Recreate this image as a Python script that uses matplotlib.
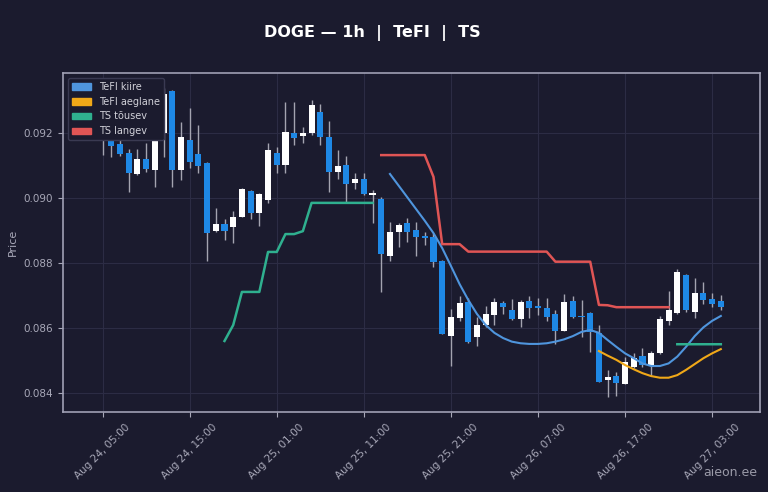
import numpy as np
import pandas as pd
import matplotlib
matplotlib.use("Agg")
import matplotlib.pyplot as plt
import matplotlib.dates as mdates
from matplotlib.patches import Patch

nan = np.nan

# hourly candles, Aug 24 05:00 -> Aug 27 04:00
times = pd.date_range("2024-08-24 05:00", periods=72, freq="h")

opens = [0.0920, 0.09188, 0.09166, 0.09139, 0.09073, 0.09119, 0.09086, 0.09201, 0.09329, 0.09086,
         0.09179, 0.09135, 0.09107, 0.08898, 0.08919, 0.0891, 0.08941, 0.09022, 0.08955, 0.08994,
         0.0914, 0.09102, 0.09201, 0.09191, 0.09201, 0.09266, 0.09189, 0.09081, 0.09101, 0.09045,
         0.0906, 0.09009, 0.08998, 0.08822, 0.08896, 0.08922, 0.08902, 0.08882, 0.08879, 0.08807,
         0.08575, 0.0863, 0.08681, 0.08571, 0.08609, 0.0864, 0.08678, 0.08655, 0.08627, 0.08684,
         0.08667, 0.0866, 0.08643, 0.08592, 0.08684, 0.08638, 0.08645, 0.08586, 0.0844, 0.08452,
         0.08428, 0.08479, 0.08514, 0.08483, 0.08524, 0.08623, 0.08645, 0.08763, 0.0865, 0.08707,
         0.08688, 0.08684]
highs = [0.0926, 0.0920, 0.0921, 0.09151, 0.09151, 0.0917, 0.0923, 0.09338, 0.09332, 0.09235,
         0.09276, 0.09225, 0.0911, 0.08969, 0.08934, 0.08961, 0.0903, 0.09025, 0.09016, 0.0917,
         0.09158, 0.09296, 0.09296, 0.09218, 0.09302, 0.09289, 0.09238, 0.09148, 0.09129, 0.09076,
         0.09078, 0.09025, 0.09003, 0.08927, 0.08924, 0.08937, 0.08927, 0.08896, 0.08893, 0.0881,
         0.08658, 0.08698, 0.08691, 0.08633, 0.08668, 0.08691, 0.08684, 0.08688, 0.08686, 0.08698,
         0.08691, 0.08691, 0.08655, 0.08704, 0.08698, 0.08686, 0.0865, 0.08609, 0.08471, 0.08466,
         0.0851, 0.08522, 0.08537, 0.0853, 0.08637, 0.08715, 0.08781, 0.08766, 0.08753, 0.08742,
         0.08707, 0.08702]
lows = [0.09133, 0.09127, 0.0913, 0.09019, 0.09071, 0.09081, 0.09035, 0.09127, 0.09035, 0.09055,
        0.09091, 0.09078, 0.08807, 0.08896, 0.08871, 0.08862, 0.0894, 0.08934, 0.08914, 0.08984,
        0.09078, 0.09078, 0.09163, 0.0917, 0.09194, 0.09163, 0.09019, 0.09058, 0.08989, 0.09027,
        0.0901, 0.08922, 0.08712, 0.08807, 0.08848, 0.08866, 0.0882, 0.08855, 0.08789, 0.0858,
        0.08483, 0.0862, 0.08555, 0.08545, 0.08604, 0.08609, 0.08643, 0.08625, 0.08604, 0.0863,
        0.0864, 0.0862, 0.08551, 0.0859, 0.0863, 0.08573, 0.08527, 0.08435, 0.08389, 0.08391,
        0.08428, 0.08478, 0.08481, 0.08452, 0.0852, 0.08609, 0.08643, 0.0865, 0.0863, 0.08674,
        0.08664, 0.08655]
closes = [0.0924, 0.0916, 0.09135, 0.09078, 0.09119, 0.09088, 0.09219, 0.09319, 0.09086, 0.09189,
          0.09112, 0.09098, 0.08893, 0.08919, 0.08899, 0.08941, 0.09028, 0.08955, 0.09011, 0.09148,
          0.09102, 0.09204, 0.09185, 0.09199, 0.09286, 0.09189, 0.09081, 0.09098, 0.09043, 0.0906,
          0.09012, 0.09014, 0.08828, 0.08896, 0.08917, 0.08896, 0.08879, 0.08878, 0.08804, 0.08582,
          0.08633, 0.08678, 0.08558, 0.08609, 0.08643, 0.08681, 0.08664, 0.08627, 0.08681, 0.0866,
          0.08663, 0.08633, 0.08592, 0.08681, 0.08633, 0.08635, 0.08589, 0.08435, 0.0845, 0.08432,
          0.08496, 0.08507, 0.08486, 0.08524, 0.08627, 0.08655, 0.08773, 0.08655, 0.08707, 0.08686,
          0.08674, 0.08664]

tefi_fast = [nan] * 33 + [
    0.09074, 0.09038, 0.09002, 0.08966, 0.0893, 0.08892, 0.08846, 0.08791, 0.08735, 0.08686,
    0.08643, 0.08609, 0.08585, 0.08569, 0.08558, 0.08553, 0.08551, 0.08551, 0.08553, 0.08558,
    0.08565, 0.08575, 0.08588, 0.08594, 0.08585, 0.08563, 0.08542, 0.08522, 0.08507, 0.08491,
    0.08483, 0.08483, 0.08491, 0.08512, 0.08542, 0.08575, 0.08602, 0.08622, 0.08637]
tefi_slow = [nan] * 57 + [
    0.08529, 0.08515, 0.08502, 0.08486, 0.08473, 0.08461, 0.08452, 0.08447, 0.08447, 0.08455,
    0.08471, 0.08489, 0.08507, 0.08522, 0.08535]
ts_up = [nan] * 14 + [
    0.0856, 0.08609, 0.08711, 0.08711, 0.08711, 0.08834, 0.08834, 0.08889, 0.08889, 0.08898,
    0.08985, 0.08985, 0.08985, 0.08985, 0.08985, 0.08985, 0.08985, 0.08985] + [nan] * 34 + [
    0.0855] * 6
ts_down = [nan] * 32 + [
    0.09132, 0.09132, 0.09132, 0.09132, 0.09132, 0.09132, 0.09065, 0.08858, 0.08858, 0.08858,
    0.08835, 0.08835, 0.08835, 0.08835, 0.08835, 0.08835, 0.08835, 0.08835, 0.08835, 0.08835,
    0.08804, 0.08804, 0.08804, 0.08804, 0.08804, 0.08671, 0.0867, 0.08664, 0.08664, 0.08664,
    0.08664, 0.08664, 0.08664, 0.08664] + [nan] * 6

tick_times = pd.date_range("2024-08-24 05:00", periods=8, freq="10h")

BG = "#1b1b2e"
FG = "#a8a8b8"
UP = "#ffffff"
DOWN = "#1e88e5"
C_FAST = "#4f95dd"
C_SLOW = "#f0a818"
C_UP = "#2fb08f"
C_DOWN = "#e05555"

fig = plt.figure(figsize=(7.68, 4.92), dpi=100, facecolor=BG)
ax = fig.add_axes([0.082, 0.1626, 0.9076, 0.689])
ax.set_facecolor(BG)

x = mdates.date2num(times)
o = np.array(opens)
c = np.array(closes)
cols = [UP if cc >= oo else DOWN for oo, cc in zip(o, c)]
ax.vlines(x, lows, highs, color="#a4a4b0", lw=1.0, zorder=2)
bottom = np.minimum(o, c)
height = np.maximum(np.abs(c - o), 0.00002)
ax.bar(x, height, bottom=bottom, width=0.7 / 24, color=cols, lw=0, zorder=3)

ax.plot(x, tefi_fast, color=C_FAST, lw=1.5, zorder=4)
ax.plot(x, tefi_slow, color=C_SLOW, lw=1.5, zorder=4)
ax.plot(x, ts_up, color=C_UP, lw=1.8, zorder=4)
ax.plot(x, ts_down, color=C_DOWN, lw=1.8, zorder=4)

t0 = x[0]
ax.set_xlim(t0 - 4.55 / 24, t0 + 75.5 / 24)
ax.set_ylim(0.083415, 0.093846)
ax.set_yticks([0.084, 0.086, 0.088, 0.090, 0.092])
ax.yaxis.set_major_formatter(matplotlib.ticker.FormatStrFormatter("%.3f"))
ax.set_xticks(mdates.date2num(tick_times))
ax.xaxis.set_major_formatter(mdates.DateFormatter("%b %d, %H:%M"))
plt.setp(ax.get_xticklabels(), rotation=45)

ax.tick_params(colors=FG, labelsize=7.5, length=3.5)
for s in ax.spines.values():
    s.set_color("#a0a0b4")
    s.set_linewidth(1.2)
ax.grid(True, color="#2c2c44", lw=0.8)
ax.set_axisbelow(True)
ax.set_ylabel("Price", color=FG, fontsize=8)

handles = [Patch(color=C_FAST, label="TeFI kiire"),
           Patch(color=C_SLOW, label="TeFI aeglane"),
           Patch(color=C_UP, label="TS tõusev"),
           Patch(color=C_DOWN, label="TS langev")]
leg = ax.legend(handles=handles, loc="upper left", fontsize=7, facecolor=BG,
                edgecolor="#3a3a52", framealpha=1.0, labelcolor="#d0d0d8")
leg.set_zorder(10)

fig.text(0.485, 0.933, "DOGE — 1h  |  TeFI  |  TS", ha="center", va="center",
         color="white", fontsize=11.5, fontweight="bold")
fig.text(0.986, 0.04, "aieon.ee", ha="right", va="center", color="#9a9aa8", fontsize=9)

fig.savefig("out.png", dpi=100, facecolor=BG)
